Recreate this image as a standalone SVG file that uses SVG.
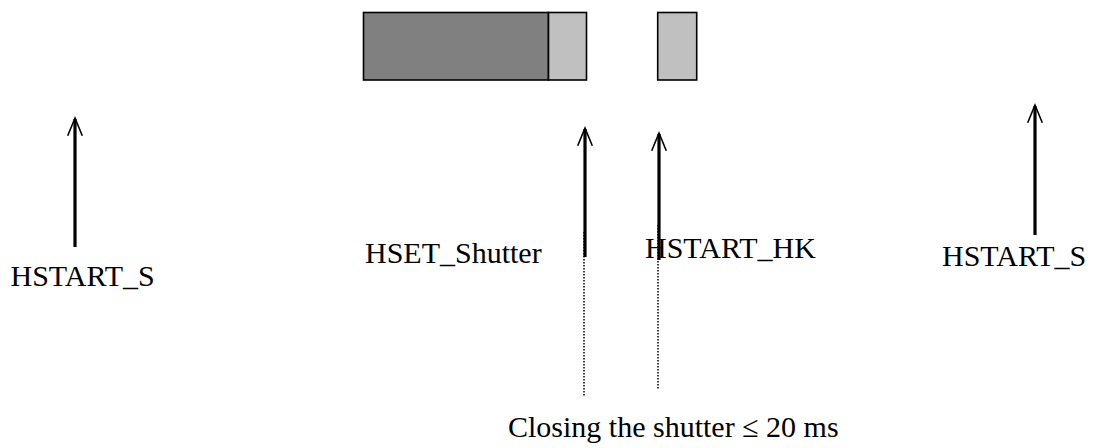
<svg xmlns="http://www.w3.org/2000/svg" width="1099" height="448" viewBox="0 0 1099 448">
  <style>
    .lbl { font-family: "Liberation Serif", "Times New Roman", serif; font-size: 30px; fill: #000; }
    .box { stroke: #000; stroke-width: 1.6; }
    .dark { fill: #808080; }
    .light { fill: #c0c0c0; }
    .arrow { stroke: #000; stroke-width: 3.2; fill: none; }
    .head { stroke: #000; stroke-width: 1.6; fill: none; stroke-linecap: square; }
    .dots { stroke: #000; stroke-width: 1.5; stroke-dasharray: 1.5 1.5; fill: none; }
  </style>

  <!-- shutter timing bars -->
  <g id="bar-exposure">
    <rect class="box dark" x="363.5" y="12.5" width="185" height="67.5"/>
  </g>
  <g id="bar-closing">
    <rect class="box light" x="548.5" y="12.5" width="38" height="67.5"/>
  </g>
  <g id="bar-housekeeping">
    <rect class="box light" x="657.7" y="12.5" width="39" height="67.5"/>
  </g>

  <!-- command arrows and timing guides -->
  <g id="connectors">
    <line class="dots" x1="584" y1="232" x2="584" y2="396"/>
    <line class="dots" x1="658" y1="225" x2="658" y2="390"/>

    <line class="arrow" x1="75" y1="247" x2="75" y2="119"/>
    <polyline class="head" points="68,135 75,118 82,135"/>

    <line class="arrow" x1="585" y1="257" x2="585" y2="129"/>
    <polyline class="head" points="578,145 585,128 592,145"/>

    <line class="arrow" x1="659" y1="260" x2="659" y2="134"/>
    <polyline class="head" points="652,150 659,133 666,150"/>

    <line class="arrow" x1="1035" y1="235" x2="1035" y2="106"/>
    <polyline class="head" points="1028,122 1035,105 1042,122"/>
  </g>

  <!-- labels -->
  <g id="label-hstart-s-1"><text class="lbl" x="10.5" y="286">HSTART_S</text></g>
  <g id="label-hset-shutter"><text class="lbl" x="365" y="263">HSET_Shutter</text></g>
  <g id="label-hstart-hk"><text class="lbl" x="645" y="258">HSTART_HK</text></g>
  <g id="label-hstart-s-2"><text class="lbl" x="942" y="266">HSTART_S</text></g>
  <g id="label-closing"><text class="lbl" x="508" y="437">Closing the shutter ≤ 20 ms</text></g>
</svg>
